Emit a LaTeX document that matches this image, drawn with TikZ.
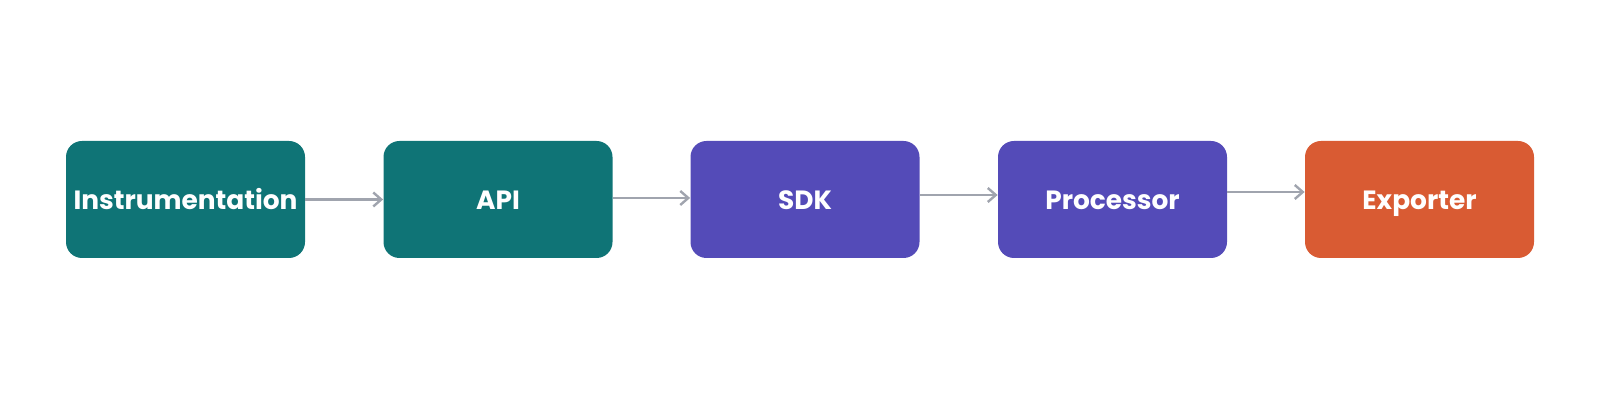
\documentclass[tikz,border=0pt]{standalone}
\usepackage{fontspec}
\setmainfont{Poppins}[BoldFont={* Bold}]
\usetikzlibrary{arrows.meta}
\definecolor{teal}{HTML}{0F7476}
\definecolor{purp}{HTML}{544BB8}
\definecolor{oran}{HTML}{D95B33}
\definecolor{arr}{HTML}{A0A4AE}
\begin{document}
\begin{tikzpicture}[x=0.5pt,y=-0.5pt,
 box/.style={rounded corners=8pt,minimum width=114.5pt,minimum height=58.5pt,inner sep=0pt,text=white,text height=13.5pt,text depth=3pt,font=\fontsize{13.2}{15}\selectfont\bfseries},
 con/.style={draw=arr,line width=1.2pt,-{Straight Barb[length=4pt,width=7pt]}}]
\useasboundingbox (0,0) rectangle (1600,400);
\node[box,fill=teal,minimum width=119.5pt] (i) at (185.5,199.5) {Instrumentation};
\node[box,fill=teal] (a) at (498,199.5) {API};
\node[box,fill=purp] (s) at (805,199.5) {SDK};
\node[box,fill=purp] (p) at (1112.5,199.5) {Processor};
\node[box,fill=oran] (e) at (1419.5,199.5) {Exporter};
\draw[con] (i.east) -- (a.west);
\draw[con] ([yshift=0.75pt]a.east) -- ([yshift=0.75pt]s.west);
\draw[con] ([yshift=2.25pt]s.east) -- ([yshift=2.25pt]p.west);
\draw[con] ([yshift=3.75pt]p.east) -- ([yshift=3.75pt]e.west);
\end{tikzpicture}
\end{document}
